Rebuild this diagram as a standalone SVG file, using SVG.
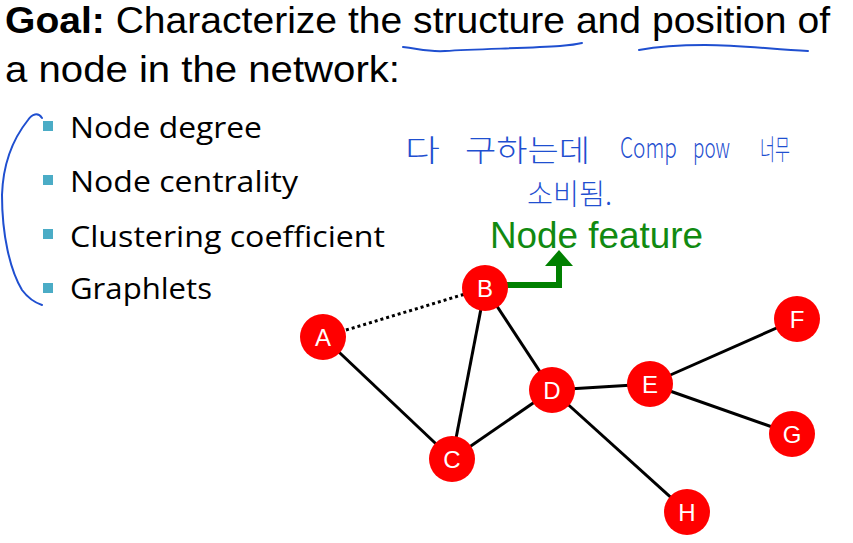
<svg xmlns="http://www.w3.org/2000/svg" width="853" height="543" viewBox="0 0 853 543">
<style>
.title{font-family:"Liberation Sans",Arial,sans-serif;font-size:37px;fill:#000}
.bul{font-family:"Open Sans","Liberation Sans",sans-serif;font-size:29px;fill:#000}
.sq{fill:#4bacc6}
.edge{stroke:#000;stroke-width:3;fill:none}
.node circle{fill:#ff0000}
.node text{font-family:"Liberation Sans",Arial,sans-serif;font-size:24px;fill:#fff;text-anchor:middle}
.ink{stroke:#1f4fd0;stroke-width:2;fill:none;stroke-linecap:round}
.hand{font-family:"Noto Sans CJK KR","Noto Sans",sans-serif;font-weight:300;fill:#1f4fd0}
</style>
<rect width="853" height="543" fill="#fff"/>
<text class="title" x="5" y="33" textLength="825" lengthAdjust="spacingAndGlyphs"><tspan font-weight="bold">Goal:</tspan> Characterize the structure and position of</text>
<text class="title" x="5" y="82" textLength="395" lengthAdjust="spacingAndGlyphs">a node in the network:</text>
<path class="ink" d="M403,47 C420,49 428,52 445,51 C480,49 530,48 560,46 C572,45 578,44 582,43"/>
<path class="ink" d="M639,50 C655,47 680,45 705,45 C740,45 770,49 808,51"/>
<g id="bullets">
<rect class="sq" x="43" y="121" width="10" height="10"/>
<text class="bul" x="70" y="138" textLength="192" lengthAdjust="spacingAndGlyphs">Node degree</text>
<rect class="sq" x="43" y="175" width="10" height="10"/>
<text class="bul" x="70" y="192" textLength="228" lengthAdjust="spacingAndGlyphs">Node centrality</text>
<rect class="sq" x="43" y="229" width="10" height="10"/>
<text class="bul" x="70" y="247" textLength="315" lengthAdjust="spacingAndGlyphs">Clustering coefficient</text>
<rect class="sq" x="43" y="283" width="10" height="10"/>
<text class="bul" x="70" y="299" textLength="142" lengthAdjust="spacingAndGlyphs">Graphlets</text>
</g>
<path class="ink" d="M42,118 C38,112 32,114 28,120 C12,140 3,165 2,195 C2,235 10,270 22,290 C28,298 36,303 42,305"/>
<g id="handwriting">
<text class="hand" x="405" y="161" font-size="30" textLength="35" lengthAdjust="spacingAndGlyphs">다</text>
<text class="hand" x="465" y="161" font-size="30" textLength="125" lengthAdjust="spacingAndGlyphs">구하는데</text>
<text class="hand" x="620" y="158" font-size="28" textLength="57" lengthAdjust="spacingAndGlyphs">Comp</text>
<text class="hand" x="693" y="158" font-size="28" textLength="37" lengthAdjust="spacingAndGlyphs">pow</text>
<text class="hand" x="760" y="160" font-size="28" textLength="30" lengthAdjust="spacingAndGlyphs">너무</text>
<text class="hand" x="527" y="205" font-size="29" textLength="85" lengthAdjust="spacingAndGlyphs">소비됨.</text>
</g>
<text x="490" y="248" font-family="Liberation Sans,Arial,sans-serif" font-size="36" fill="#118a11" textLength="213" lengthAdjust="spacingAndGlyphs">Node feature</text>
<g id="connectors">
<line class="edge" x1="323" y1="337" x2="485" y2="288" stroke-dasharray="3,3"/>
<line class="edge" x1="323" y1="337" x2="452" y2="459"/>
<line class="edge" x1="485" y1="288" x2="452" y2="459"/>
<line class="edge" x1="485" y1="288" x2="552" y2="390"/>
<line class="edge" x1="452" y1="459" x2="552" y2="390"/>
<line class="edge" x1="552" y1="390" x2="650" y2="384"/>
<line class="edge" x1="650" y1="384" x2="797" y2="319"/>
<line class="edge" x1="650" y1="384" x2="792" y2="434"/>
<line class="edge" x1="552" y1="390" x2="687" y2="512"/>
<path d="M505,285 H559 V264" stroke="#008000" stroke-width="6" fill="none"/>
<polygon points="545,266 573,266 559,250" fill="#008000"/>
</g>
<g id="A" class="node"><circle cx="323" cy="337" r="23"/><text x="323" y="346">A</text></g>
<g id="B" class="node"><circle cx="485" cy="288" r="23"/><text x="485" y="297">B</text></g>
<g id="C" class="node"><circle cx="452" cy="459" r="23"/><text x="452" y="468">C</text></g>
<g id="D" class="node"><circle cx="552" cy="390" r="23"/><text x="552" y="399">D</text></g>
<g id="E" class="node"><circle cx="650" cy="384" r="23"/><text x="650" y="393">E</text></g>
<g id="F" class="node"><circle cx="797" cy="319" r="23"/><text x="797" y="328">F</text></g>
<g id="G" class="node"><circle cx="792" cy="434" r="23"/><text x="792" y="443">G</text></g>
<g id="H" class="node"><circle cx="687" cy="512" r="23"/><text x="687" y="521">H</text></g>
</svg>
